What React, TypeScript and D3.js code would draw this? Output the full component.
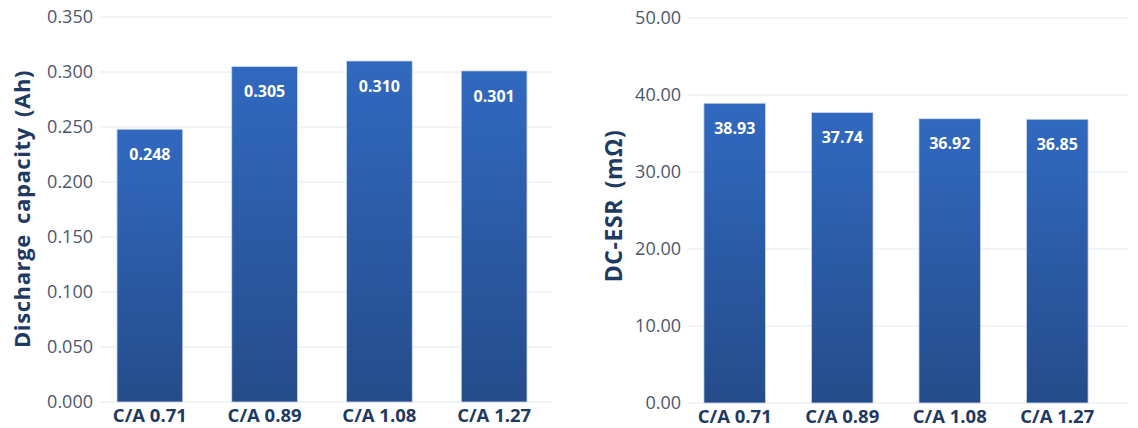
import React from "react";
import * as d3 from "d3";

// Cathode/anode ratio groups shared by both panels
const categories = ["C/A 0.71", "C/A 0.89", "C/A 1.08", "C/A 1.27"];

// Discharge capacity (Ah)
const capacityValues = [0.248, 0.305, 0.31, 0.301];
const capacityTicks = [0, 0.05, 0.1, 0.15, 0.2, 0.25, 0.3, 0.35];

// DC-ESR (mΩ)
const esrValues = [38.93, 37.74, 36.92, 36.85];
const esrTicks = [0, 10, 20, 30, 40, 50];

const FONT = "'Open Sans', 'Noto Sans', sans-serif";
const TICK_COLOR = "#4b5870";
const TITLE_COLOR = "#1f3a62";
const GRID_COLOR = "#e2e8f1";

type PanelProps = {
  id: string;
  values: number[];
  ticks: number[];
  max: number;
  fmt: (v: number) => string;
  title: string;
  titleX: number;
  titleY: number;
  titleSize: number;
  gridX0: number;
  gridX1: number;
  bandX1: number;
  yTop: number;
  yBottom: number;
};

function Panel(p: PanelProps) {
  const y = d3.scaleLinear().domain([0, p.max]).range([p.yBottom, p.yTop]);
  const x = d3
    .scaleBand<string>()
    .domain(categories)
    .range([p.gridX0, p.bandX1])
    .paddingInner(0.427)
    .paddingOuter(0.148);
  const gradId = `grad-${p.id}`;
  return (
    <g>
      <defs>
        <linearGradient id={gradId} x1="0" y1="0" x2="0" y2="1">
          <stop offset="0%" stopColor="#3169c0" />
          <stop offset="100%" stopColor="#254c8a" />
        </linearGradient>
      </defs>
      {p.ticks.map((t) => (
        <g key={t}>
          <line
            x1={p.gridX0}
            x2={p.gridX1}
            y1={y(t)}
            y2={y(t)}
            stroke={GRID_COLOR}
            strokeWidth={1}
          />
          <text
            x={p.gridX0 - 7}
            y={y(t)}
            dy="0.35em"
            textAnchor="end"
            fontSize={18}
            fill={TICK_COLOR}
            fontFamily={FONT}
          >
            {p.fmt(t)}
          </text>
        </g>
      ))}
      {categories.map((c, i) => {
        const x0 = x(c) as number;
        const top = y(p.values[i]);
        const cx = x0 + x.bandwidth() / 2;
        return (
          <g key={c}>
            <rect
              x={x0}
              y={top}
              width={x.bandwidth()}
              height={p.yBottom - top}
              fill={`url(#${gradId})`}
              stroke="#cfdaea"
              strokeWidth={0.8}
            />
            <text
              x={cx}
              y={top + 25}
              dy="0.35em"
              textAnchor="middle"
              fontSize={16}
              fontWeight={700}
              fill="#ffffff"
              fontFamily={FONT}
            >
              {p.fmt(p.values[i])}
            </text>
            <text
              x={cx}
              y={p.yBottom + 14}
              dy="0.35em"
              textAnchor="middle"
              fontSize={18.5}
              fontWeight={700}
              fill={TITLE_COLOR}
              fontFamily={FONT}
            >
              {c}
            </text>
          </g>
        );
      })}
      <text
        transform={`translate(${p.titleX},${p.titleY}) rotate(-90)`}
        dy="0.35em"
        textAnchor="middle"
        fontSize={p.titleSize}
        fontWeight={700}
        letterSpacing={0.6}
        wordSpacing={4}
        fill={TITLE_COLOR}
        fontFamily={FONT}
      >
        {p.title}
      </text>
    </g>
  );
}

export default function App() {
  return (
    <svg
      width={1138}
      height={428}
      style={{ position: "absolute", left: 0, top: 0, background: "#ffffff" }}
    >
      <rect width={1138} height={428} fill="#ffffff" />
      <Panel
        id="cap"
        values={capacityValues}
        ticks={capacityTicks}
        max={0.35}
        fmt={d3.format(".3f")}
        title="Discharge capacity (Ah)"
        titleX={22}
        titleY={209}
        titleSize={22}
        gridX0={100}
        gridX1={553}
        bandX1={544}
        yTop={17}
        yBottom={402}
      />
      <Panel
        id="esr"
        values={esrValues}
        ticks={esrTicks}
        max={50}
        fmt={d3.format(".2f")}
        title="DC-ESR (mΩ)"
        titleX={614}
        titleY={206}
        titleSize={23}
        gridX0={688}
        gridX1={1128}
        bandX1={1104}
        yTop={18}
        yBottom={403}
      />
    </svg>
  );
}
